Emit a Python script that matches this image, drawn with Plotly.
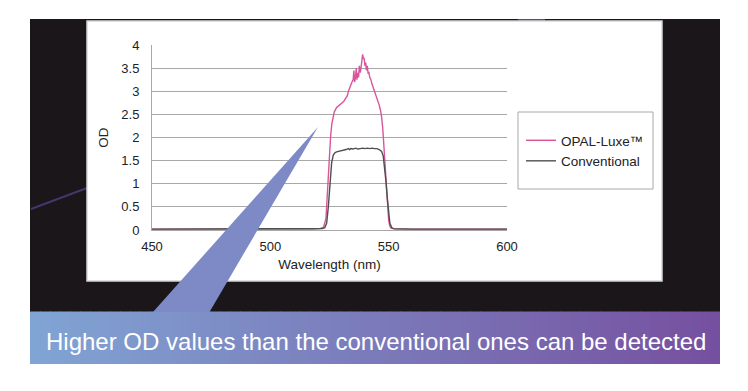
import plotly.graph_objects as go

# ---------------- data ----------------
opal_wl = [450, 460, 470, 480, 490, 500, 510, 518, 521, 522.5, 523.5, 524, 524.5, 525, 525.5,
           526, 526.5, 527, 528, 529, 530, 531, 532, 532.5, 533, 533.5, 534, 534.5, 535,
           535.3, 535.6, 536, 536.3, 536.6, 537, 537.3, 537.6, 538, 538.3, 538.6, 539,
           539.3, 539.6, 540, 540.3, 540.6, 541, 541.3, 541.6, 542, 542.5, 543, 543.5,
           544, 544.5, 545, 545.5, 546, 546.5, 547, 547.5, 548, 548.5, 549, 549.5, 550,
           550.5, 551, 553, 560, 570, 580, 590, 600]
opal_od = [0.02, 0.02, 0.01, 0.02, 0.01, 0.02, 0.02, 0.02, 0.03, 0.06, 0.25, 0.7, 1.25, 1.7, 2.05,
           2.3, 2.45, 2.55, 2.65, 2.7, 2.74, 2.78, 2.86, 2.9, 3.0, 3.08, 3.12, 3.2, 3.25,
           3.45, 3.2, 3.3, 3.5, 3.25, 3.4, 3.3, 3.55, 3.4, 3.5, 3.65, 3.8,
           3.7, 3.72, 3.55, 3.62, 3.45, 3.55, 3.38, 3.42, 3.3, 3.25, 3.15, 3.08,
           3.0, 2.92, 2.85, 2.78, 2.7, 2.6, 2.45, 2.2, 1.8, 1.3, 0.8, 0.45, 0.2,
           0.08, 0.04, 0.02, 0.02, 0.01, 0.02, 0.02, 0.02]

conv_wl = [450, 460, 470, 480, 490, 500, 510, 518, 522, 523, 523.8, 524.5, 525.2, 525.9, 526.6,
           527.3, 528, 529, 530, 531, 532, 533, 533.5, 534, 535, 536, 537, 538, 539, 540,
           541, 542, 543, 544, 545, 546, 547, 547.7, 548.3, 548.8, 549.4, 549.9, 550.5,
           551.3, 552, 560, 570, 580, 590, 600]
conv_od = [0.02, 0.02, 0.02, 0.02, 0.02, 0.02, 0.02, 0.02, 0.03, 0.05, 0.15, 0.5, 1.08, 1.45, 1.62,
           1.67, 1.69, 1.7, 1.72, 1.73, 1.74, 1.76, 1.74, 1.76, 1.75, 1.77, 1.75, 1.76, 1.77, 1.76,
           1.77, 1.76, 1.77, 1.76, 1.76, 1.74, 1.7, 1.6, 1.35, 1.08, 0.7, 0.36, 0.15,
           0.05, 0.03, 0.02, 0.02, 0.02, 0.02, 0.02]

series_names = ["OPAL-Luxe™", "Conventional"]
x_ticks = [450, 500, 550, 600]
y_ticks = [0, 0.5, 1, 1.5, 2, 2.5, 3, 3.5, 4]
y_tick_text = ["0", "0.5", "1", "1.5", "2", "2.5", "3", "3.5", "4"]
caption = "Higher OD values than the conventional ones can be detected"

# ---------------- figure ----------------
W, H = 748, 391
FONT = "Liberation Sans, Arial, sans-serif"

def px(x):
    return x / W

def py(y):
    return 1 - y / H

fig = go.Figure()
fig.add_trace(go.Scatter(x=opal_wl, y=opal_od, mode="lines", name=series_names[0],
                         line=dict(color="#d9559b", width=1.4)))
fig.add_trace(go.Scatter(x=conv_wl, y=conv_od, mode="lines", name=series_names[1],
                         line=dict(color="#4f4f4f", width=1.4)))

shapes = []
# dark slide background
shapes.append(dict(type="rect", xref="paper", yref="paper", x0=px(30), x1=px(720),
                   y0=py(312), y1=py(19), fillcolor="#1a1619", line=dict(width=0), layer="below"))
# faint light streaks on the background
shapes.append(dict(type="line", xref="paper", yref="paper", x0=px(31), y0=py(209), x1=px(87), y1=py(188),
                   line=dict(color="rgba(95,85,175,0.55)", width=2), layer="below"))
shapes.append(dict(type="line", xref="paper", yref="paper", x0=px(518), y0=py(20), x1=px(545), y1=py(20),
                   line=dict(color="rgba(110,120,200,0.6)", width=2), layer="below"))
# gradient caption band
left_c = (128, 164, 212)
right_c = (118, 80, 160)
n = 69
x_start, x_end = 30, 720
for i in range(n):
    t = i / (n - 1)
    c = tuple(int(round(left_c[k] + (right_c[k] - left_c[k]) * t)) for k in range(3))
    xa = x_start + (x_end - x_start) * i / n
    xb = x_start + (x_end - x_start) * (i + 1) / n + 0.6
    shapes.append(dict(type="rect", xref="paper", yref="paper", x0=px(xa), x1=px(min(xb, x_end)),
                       y0=py(364), y1=py(311.5), fillcolor="rgb(%d,%d,%d)" % c,
                       line=dict(width=0), layer="below"))
# white chart panel
shapes.append(dict(type="rect", xref="paper", yref="paper", x0=px(87), x1=px(662),
                   y0=py(281), y1=py(21), fillcolor="#ffffff",
                   line=dict(color="#d6d6d6", width=1.5), layer="below"))
# legend frame
shapes.append(dict(type="rect", xref="paper", yref="paper", x0=px(518), x1=px(653),
                   y0=py(189), y1=py(112), fillcolor="rgba(0,0,0,0)",
                   line=dict(color="#a8a8a8", width=1), layer="below"))
# callout wedge
path = "M {:.5f} {:.5f} L {:.5f} {:.5f} L {:.5f} {:.5f} Z".format(
    px(153), py(312), px(318), py(127), px(209.5), py(312))
shapes.append(dict(type="path", xref="paper", yref="paper", path=path,
                   fillcolor="#7d8ac6", line=dict(width=0), layer="above"))

fig.update_layout(
    width=W, height=H,
    autosize=False,
    margin=dict(l=0, r=0, t=0, b=0, pad=0, autoexpand=False),
    paper_bgcolor="#ffffff",
    plot_bgcolor="rgba(0,0,0,0)",
    font=dict(family=FONT, size=13, color="#222222"),
    shapes=shapes,
    showlegend=True,
    legend=dict(x=px(521), y=py(151), xanchor="left", yanchor="middle",
                bgcolor="rgba(0,0,0,0)", borderwidth=0,
                font=dict(family=FONT, size=13.5, color="#222222"),
                itemwidth=30),
    xaxis=dict(domain=[px(152), px(507)], range=[450, 600], tickvals=x_ticks,
               showgrid=False, zeroline=False, showline=True, linecolor="#a8a8a8", linewidth=1,
               ticks="", ticklabelstandoff=4, automargin=False,
               tickfont=dict(family=FONT, size=13, color="#222222"),
               title=dict(text="Wavelength (nm)", standoff=6,
                          font=dict(family=FONT, size=13.5, color="#222222"))),
    yaxis=dict(domain=[py(230), py(45)], range=[0, 4], tickvals=y_ticks, ticktext=y_tick_text,
               showgrid=True, gridcolor="#a8a8a8", gridwidth=1, zeroline=False,
               showline=True, linecolor="#a8a8a8", linewidth=1,
               ticks="", ticklabelstandoff=9, automargin=False,
               tickfont=dict(family=FONT, size=13, color="#222222"),
               title=dict(text="OD", standoff=9,
                          font=dict(family=FONT, size=13.5, color="#222222"))),
    annotations=[dict(text=caption, xref="paper", yref="paper", x=px(376), y=py(341),
                      xanchor="center", yanchor="middle", showarrow=False,
                      font=dict(family=FONT, size=24, color="#ffffff"))],
)

fig.write_html("out.html", config={"displayModeBar": False},
               post_script="document.body.style.margin='0px';")
